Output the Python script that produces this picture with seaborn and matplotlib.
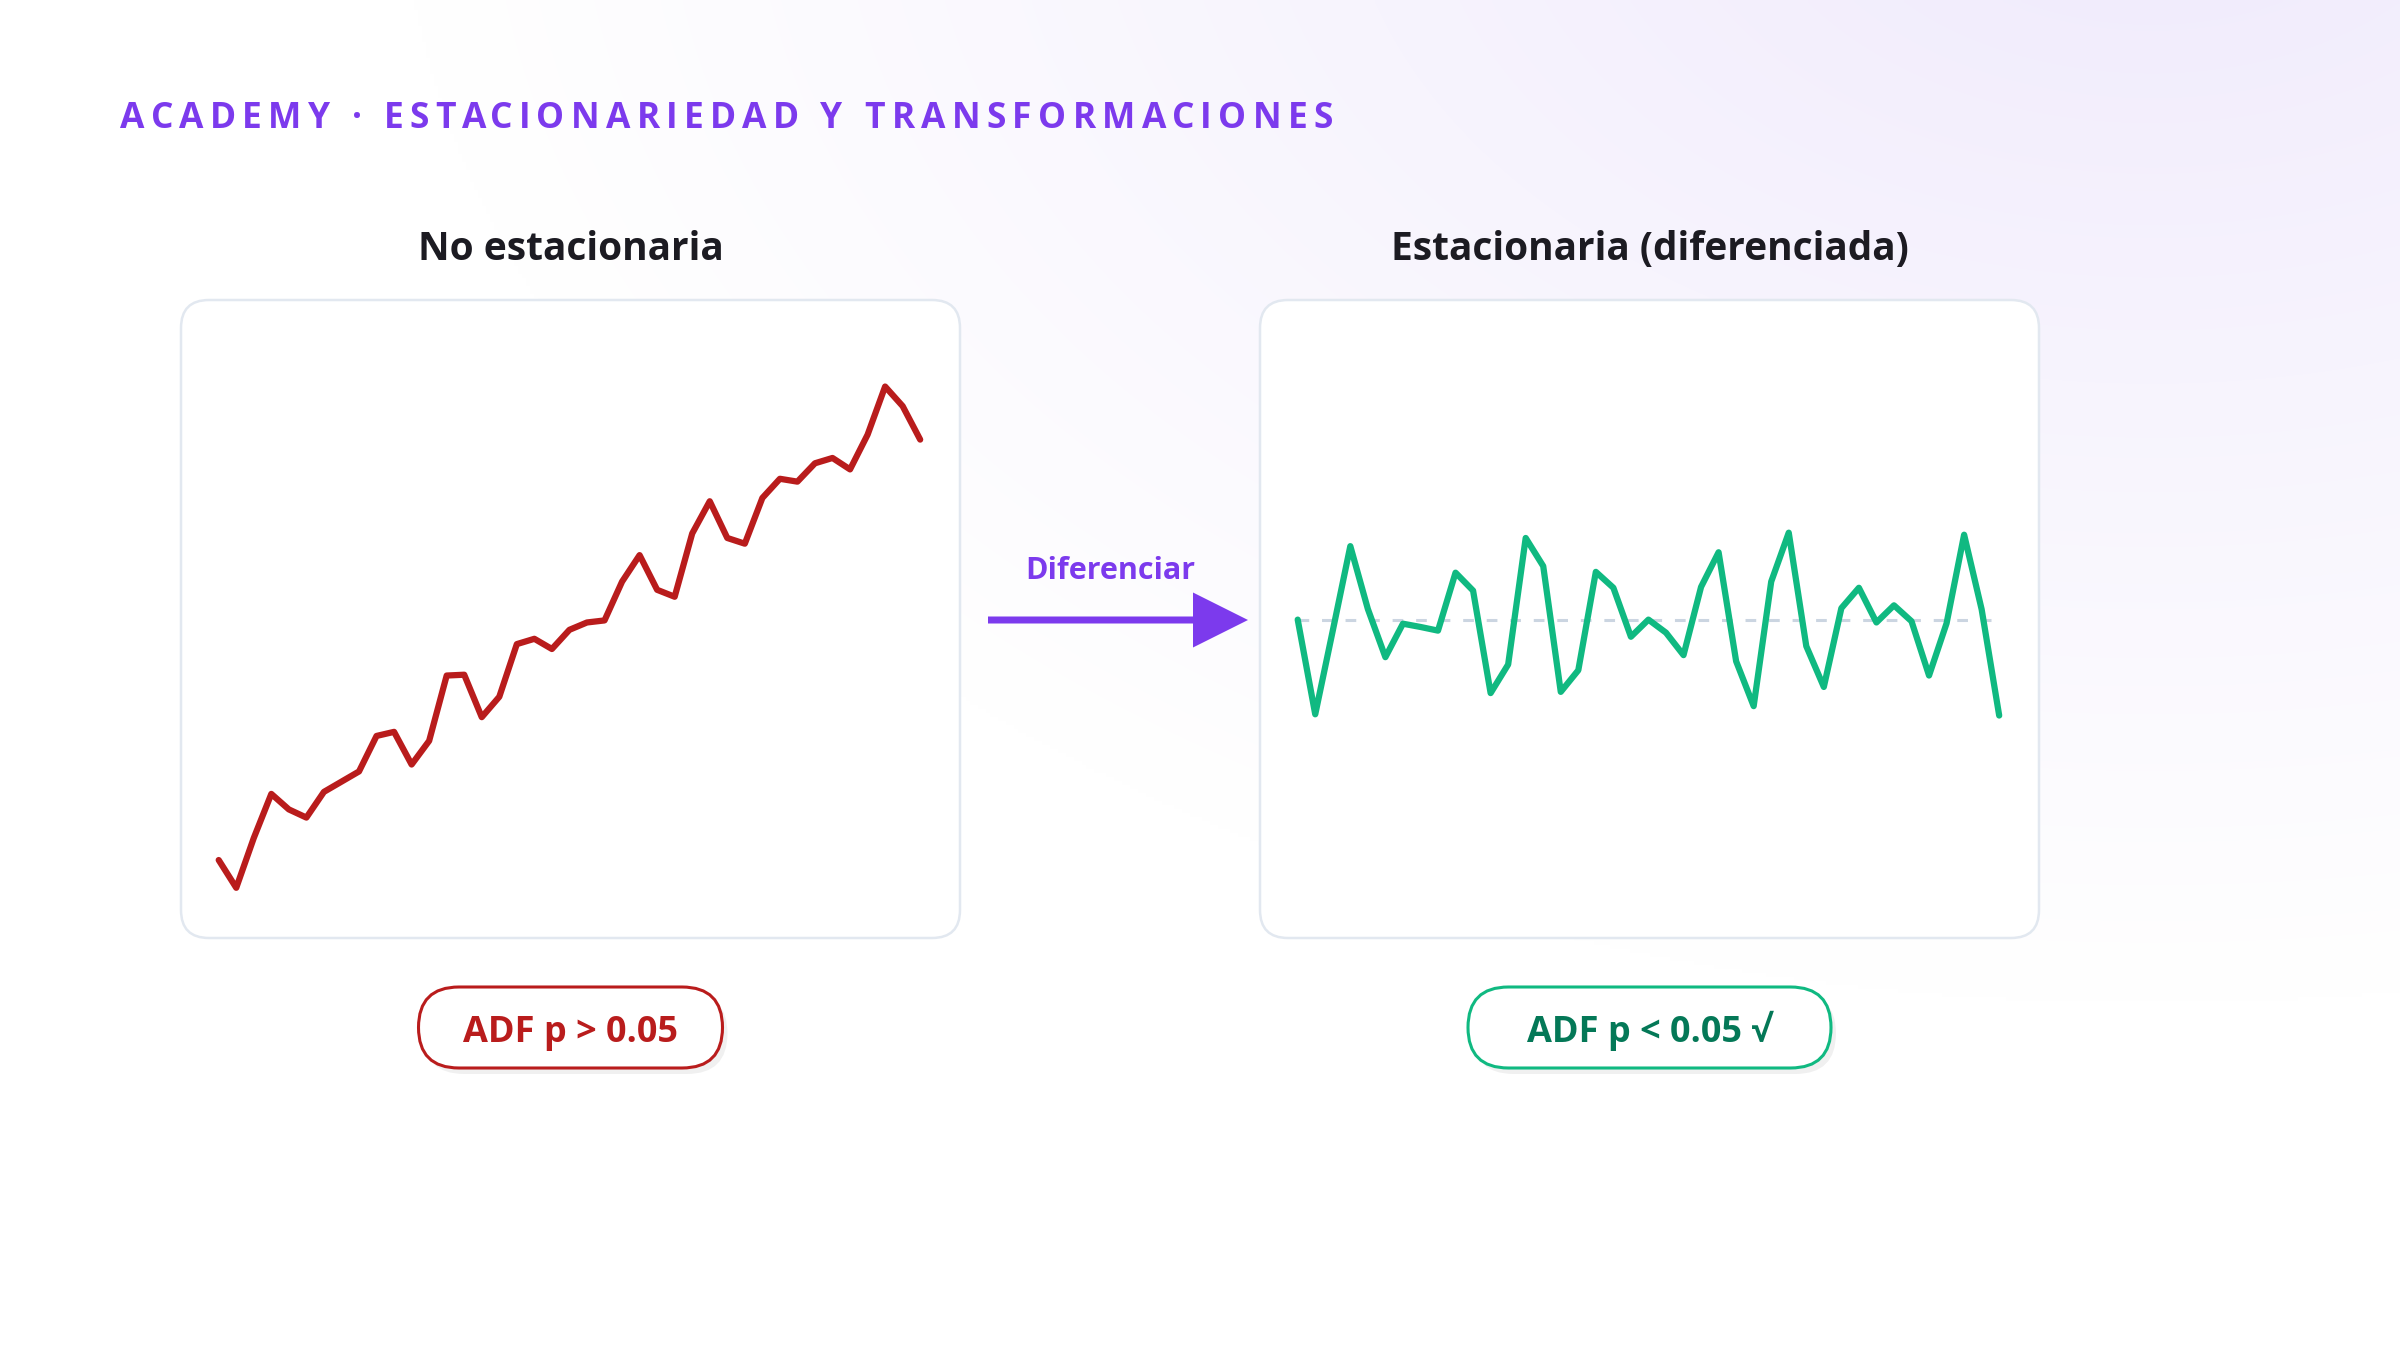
import numpy as np
import pandas as pd
import matplotlib
matplotlib.use("Agg")
import matplotlib.pyplot as plt
import seaborn as sns
from matplotlib.patches import FancyBboxPatch, FancyArrow
from matplotlib.colors import to_rgb

# ---------------- data ----------------
header = "ACADEMY · ESTACIONARIEDAD Y TRANSFORMACIONES"
panel_titles = ["No estacionaria", "Estacionaria (diferenciada)"]
arrow_label = "Diferenciar"
badge_labels = ["ADF p > 0.05", "ADF p < 0.05 √"]

serie_original = [6.8, 0.0, 12.2, 23.0, 19.2, 17.2, 23.5, 26.0, 28.5, 37.2,
                  38.2, 30.2, 36.0, 52.0, 52.2, 41.8, 46.8, 59.7, 61.0, 58.5,
                  63.2, 65.0, 65.5, 75.0, 81.5, 73.0, 71.3, 86.8, 94.7, 85.7,
                  84.3, 95.5, 100.2, 99.5, 104.0, 105.3, 102.5, 111.0, 122.8, 118.0,
                  109.8]
serie_diferenciada = [0.0, -23.2, -2.7, 18.0, 2.6, -9.2, -1.0, -1.8, -2.7, 11.5,
                      7.1, -18.0, -11.0, 20.0, 13.1, -17.7, -12.4, 11.7, 7.8, -4.2,
                      0.0, -3.2, -8.7, 8.0, 16.5, -10.2, -21.2, 9.3, 21.3, -6.5,
                      -16.5, 2.8, 7.8, -0.7, 3.5, -0.4, -13.7, -0.9, 20.8, 2.5,
                      -23.5]
nivel_medio = 0.0

# ---------------- style ----------------
sns.set_theme(style="white")
FAM = ['Open Sans', 'DejaVu Sans']
plt.rcParams['font.family'] = FAM

W, H = 2400, 1350
fig = plt.figure(figsize=(24, 13.5), dpi=100)
bg = fig.add_axes([0, 0, 1, 1], zorder=0)

# background gradient (purple tint top-right)
yy, xx = np.mgrid[0:H:4, 0:W:4]
d = np.hypot((xx - 2150) / 1750.0, (yy + 150) / 1150.0)
t = np.clip(d, 0, 1) ** 0.9
c0 = np.array(to_rgb('#efe9fc'))
img = c0 * (1 - t)[..., None] + np.ones(3) * t[..., None]
bg.imshow(img, extent=(0, W, H, 0), origin='upper', aspect='auto',
          zorder=0, interpolation='bilinear')
bg.set_xlim(0, W)
bg.set_ylim(H, 0)
bg.axis('off')

# header with letter spacing
fs_head = 25.5
renderer = fig.canvas.get_renderer()


def adv(s):
    tt = bg.text(0, 0, s + "|", fontsize=fs_head, fontweight='bold')
    w = tt.get_window_extent(renderer).width
    tt.remove()
    return w


bar_w = adv("")
offs = [adv(header[:i]) - bar_w for i in range(len(header) + 1)]
natural = offs[-1]
x_start, x_end = 120, 1333
spacing = (x_end - x_start - natural) / (len(header) - 1)
for i, ch in enumerate(header):
    bg.text(x_start + offs[i] + i * spacing, 128, ch, fontsize=fs_head,
            fontweight='bold', color='#7c3aed', ha='left', va='baseline')

# panels
panel_x = [181, 1260]
panel_y, pw, ph = 300, 779, 638
line_colors = ['#b91c1c', '#10b981']
badge_edge = ['#b91c1c', '#10b981']
badge_text = ['#b91c1c', '#047857']
badge_w = [304, 363]

for i, px in enumerate(panel_x):
    bg.add_patch(FancyBboxPatch((px, panel_y), pw, ph,
                                boxstyle="round,pad=0,rounding_size=28",
                                fc='white', ec='#e2e8f0', lw=1.8, zorder=2))
    cx = px + pw / 2
    bg.text(cx, 260, panel_titles[i], ha='center', va='baseline', fontsize=28,
            fontweight='bold', color='#1c1b22', zorder=3)
    # badge
    x0 = cx - badge_w[i] / 2
    bg.add_patch(FancyBboxPatch((x0 + 5, 987 + 6), badge_w[i], 81,
                                boxstyle="round,pad=0,rounding_size=40.5",
                                fc='black', alpha=0.06, ec='none', zorder=2))
    bg.add_patch(FancyBboxPatch((x0, 987), badge_w[i], 81,
                                boxstyle="round,pad=0,rounding_size=40.5",
                                fc='white', ec=badge_edge[i], lw=2.2, zorder=3))
    bg.text(cx, 1042, badge_labels[i], ha='center', va='baseline', fontsize=26,
            fontweight='bold', color=badge_text[i], zorder=4, family=FAM)

# arrow
bg.add_patch(FancyArrow(988, 620, 260, 0, width=7, head_width=55, head_length=55,
                        length_includes_head=True, color='#7c3aed', lw=0, zorder=3))
bg.text(1110, 579, arrow_label, ha='center', va='baseline', fontsize=22,
        fontweight='bold', color='#7c3aed', zorder=3)

# line charts
series = [serie_original, serie_diferenciada]
ylims = [(-12.3, 144.0), (-78.0, 78.3)]
for i, px in enumerate(panel_x):
    ax = fig.add_axes([px / W, (H - panel_y - ph) / H, pw / W, ph / H], zorder=3)
    ax.patch.set_alpha(0)
    vals = series[i]
    idx = np.arange(len(vals))
    df = pd.DataFrame({'t': idx, 'v': vals})
    if i == 1:
        ax.hlines(nivel_medio, idx[0], idx[-1], colors='#cbd5e1', lw=2.2,
                  linestyles=(0, (3.5, 4.2)), zorder=1)
    sns.lineplot(data=df, x='t', y='v', ax=ax, color=line_colors[i], linewidth=4.5,
                 solid_capstyle='round', solid_joinstyle='round', zorder=2)
    ax.set_xlim(-2.15, 42.27)
    ax.set_ylim(*ylims[i])
    ax.axis('off')

fig.savefig('out.png', dpi=100)
